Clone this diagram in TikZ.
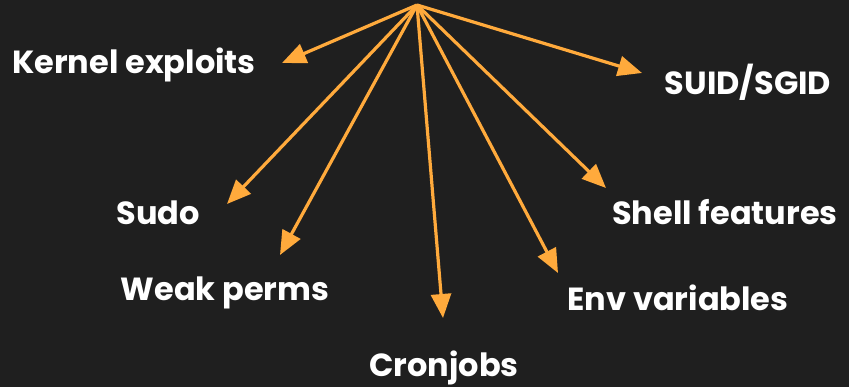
\documentclass[tikz,border=0pt]{standalone}
\usepackage{fontspec}
\setmainfont{Poppins}
\usetikzlibrary{arrows.meta}
\definecolor{bg}{HTML}{1F1F1F}
\definecolor{arr}{HTML}{FFAA3C}
\begin{document}
\begin{tikzpicture}[x=1pt,y=-1pt,
  lbl/.style={text=white,font=\fontsize{32}{36}\selectfont\bfseries,inner sep=0pt},
  conn/.style={draw=arr,line width=3.2pt,-{Triangle[length=24pt,width=20pt]}}]
\fill[bg] (0,0) rectangle (849,387);
\useasboundingbox (0,0) rectangle (849,387);
\coordinate (src) at (417,5);
\coordinate (tk) at (282,63);
\coordinate (tsuid) at (642,73);
\coordinate (tsudo) at (227,204);
\coordinate (tweak) at (280,255);
\coordinate (tcron) at (443,318);
\coordinate (tshell) at (606,188);
\coordinate (tenv) at (558,273);
\node[lbl] (kernel) at (134,65) {Kernel exploits};
\node[lbl] (suid) at (748,82) {SUID/SGID};
\node[lbl] (sudo) at (158,213) {Sudo};
\node[lbl] (weak) at (225,293) {Weak perms};
\node[lbl] (cron) at (444,368) {Cronjobs};
\node[lbl] (shell) at (725,212) {Shell features};
\node[lbl] (env) at (678,298) {Env variables};
\foreach \t in {tk,tsuid,tsudo,tweak,tcron,tshell,tenv}
  \draw[conn] (src) -- (\t);
\end{tikzpicture}
\end{document}
